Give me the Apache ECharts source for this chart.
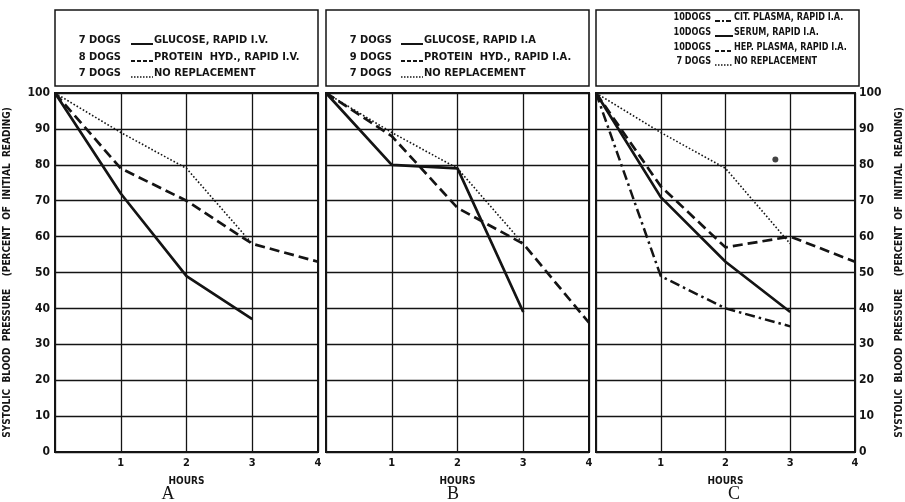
<!DOCTYPE html>
<html>
<head>
<meta charset="utf-8">
<script src="https://cdn.jsdelivr.net/npm/echarts@6/dist/echarts.min.js"></script>
<style>
html,body{margin:0;padding:0;background:#fff;}
#chart{width:905px;height:502px;}
</style>
</head>
<body>
<div id="chart"></div>
<script>
// hours after start, and blood pressure as percent of initial reading
var hours = [0, 1, 2, 3, 4];
var yTicks = [0, 10, 20, 30, 40, 50, 60, 70, 80, 90, 100];

// panel A - rapid I.V.
var glucoseIV = [100, 72, 49, 37];
var proteinIV = [100, 79, 70, 58, 53];
var noReplA = [100, 89, 79, 58];
// panel B - rapid I.A.
var glucoseIA = [100, 80, 79, 39];
var proteinIA = [100, 88, 68, 58, 36];
var noReplB = [100, 89, 79, 58];
// panel C
var citPlasma = [100, 49, 40, 35];
var serum = [100, 71, 53, 39];
var hepPlasma = [100, 74, 57, 60, 53];
var noReplC = [100, 89, 79, 58];
var blotC = [[2.77, 81.5]];

var panelLetters = ['A', 'B', 'C'];
var legendA = [['7 DOGS', 'GLUCOSE, RAPID I.V.', 'solid'], ['8 DOGS', 'PROTEIN  HYD., RAPID I.V.', 'dashed'], ['7 DOGS', 'NO REPLACEMENT', 'dotted']];
var legendB = [['7 DOGS', 'GLUCOSE, RAPID I.A', 'solid'], ['9 DOGS', 'PROTEIN  HYD., RAPID I.A.', 'dashed'], ['7 DOGS', 'NO REPLACEMENT', 'dotted']];
var legendC = [['10DOGS', 'CIT. PLASMA, RAPID I.A.', 'dashdot'], ['10DOGS', 'SERUM, RAPID I.A.', 'solid'], ['10DOGS', 'HEP. PLASMA, RAPID I.A.', 'dashed'], ['7 DOGS', 'NO REPLACEMENT', 'dotted']];

var INK = '#141414';
var FONT = '"Liberation Sans Narrow","DejaVu Sans Condensed","Liberation Sans",sans-serif';
var styles = {
    solid:   {width: 2.7, type: 'solid'},
    dashed:  {width: 2.7, type: [10, 5]},
    dotted:  {width: 1.6, type: [1.6, 2]},
    dashdot: {width: 2.5, type: [10, 4, 2.5, 4]}
};

function pairs(vals) {
    return vals.map(function (v, i) { return [hours[i], v]; });
}
function line(name, vals, idx, kind) {
    return {
        name: name, type: 'line', xAxisIndex: idx, yAxisIndex: idx,
        data: pairs(vals), symbol: 'none', silent: true, animation: false,
        lineStyle: {color: INK, width: styles[kind].width, type: styles[kind].type, cap: 'butt'}
    };
}

var lefts = [55, 326, 596];
var grids = lefts.map(function (l) {
    return {left: l, width: 263, top: 93, height: 359, show: true, borderColor: INK, borderWidth: 2, backgroundColor: '#fff'};
});

var xAxes = lefts.map(function (l, i) {
    return {
        type: 'value', gridIndex: i, min: 0, max: 4, interval: 1,
        name: 'HOURS', nameLocation: 'middle', nameGap: 24,
        nameTextStyle: {color: INK, fontSize: 10, fontWeight: 'bold', fontFamily: FONT},
        axisLine: {show: true, lineStyle: {color: INK, width: 2}},
        axisTick: {show: false},
        axisLabel: {color: INK, fontSize: 11, fontWeight: 'bold', margin: 6, fontFamily: FONT,
            formatter: function (v) { return v === 0 ? '' : String(v); }},
        splitLine: {show: true, lineStyle: {color: INK, width: 1.3}}
    };
});

var yName = 'SYSTOLIC  BLOOD  PRESSURE    (PERCENT  OF  INITIAL  READING)';
var yAxes = lefts.map(function (l, i) {
    return {
        type: 'value', gridIndex: i, min: yTicks[0], max: yTicks[yTicks.length - 1], interval: 10,
        position: i === 2 ? 'right' : 'left',
        name: i === 1 ? '' : yName, nameLocation: 'middle', nameRotate: 90,
        nameGap: i === 2 ? 39 : 43,
        nameTextStyle: {color: INK, fontSize: 10, fontWeight: 'bold', fontFamily: FONT},
        axisLine: {show: true, lineStyle: {color: INK, width: 2}},
        axisTick: {show: false},
        axisLabel: {show: i !== 1, color: INK, fontSize: 12, fontWeight: 'bold', margin: i === 2 ? 4 : 5, fontFamily: FONT},
        splitLine: {show: true, lineStyle: {color: INK, width: 1.3}}
    };
});

var series = [
    line('Glucose I.V.', glucoseIV, 0, 'solid'),
    line('Protein hyd. I.V.', proteinIV, 0, 'dashed'),
    line('No replacement A', noReplA, 0, 'dotted'),
    line('Glucose I.A.', glucoseIA, 1, 'solid'),
    line('Protein hyd. I.A.', proteinIA, 1, 'dashed'),
    line('No replacement B', noReplB, 1, 'dotted'),
    line('Cit. plasma', citPlasma, 2, 'dashdot'),
    line('Serum', serum, 2, 'solid'),
    line('Hep. plasma', hepPlasma, 2, 'dashed'),
    line('No replacement C', noReplC, 2, 'dotted'),
    {type: 'scatter', xAxisIndex: 2, yAxisIndex: 2, data: blotC, symbolSize: 6,
        itemStyle: {color: INK}, silent: true, animation: false}
];

// legend boxes drawn as graphics (count, line sample, label)
function legendBox(x, rows, countRight, sampleFrom, sampleTo, rowYs, squeeze) {
    var els = [{type: 'rect', shape: {x: x, y: 10, width: 263, height: 76},
        style: {fill: '#fff', stroke: INK, lineWidth: 1.5}}];
    rows.forEach(function (r, k) {
        var y = rowYs[k];
        els.push({type: 'text', x: countRight, y: y, scaleX: squeeze,
            style: {text: r[0], x: 0, y: 0, align: 'right', verticalAlign: 'middle',
            fill: INK, font: 'bold 11px ' + FONT}});
        els.push({type: 'line', shape: {x1: sampleFrom, y1: y + 4, x2: sampleTo, y2: y + 4},
            style: {stroke: INK, lineWidth: r[2] === 'dotted' ? 1.6 : 2,
                lineDash: r[2] === 'solid' ? null : (r[2] === 'dashed' ? [4, 2] : (r[2] === 'dotted' ? [1.5, 1.5] : [5, 2, 2, 2]))}});
        els.push({type: 'text', x: sampleTo + 1, y: y, scaleX: squeeze,
            style: {text: r[1], x: 0, y: 0, align: 'left', verticalAlign: 'middle',
            fill: INK, font: 'bold 11px ' + FONT}});
    });
    return els;
}

var graphics = []
    .concat(legendBox(55, legendA, 121, 131, 153, [40, 57, 73], 1))
    .concat(legendBox(326, legendB, 392, 401, 423, [40, 57, 73], 1))
    .concat(legendBox(596, legendC, 711, 715, 733, [17, 32, 47, 61], 0.82));
var letterX = [168, 453, 734];
panelLetters.forEach(function (t, i) {
    graphics.push({type: 'text', style: {text: t, x: letterX[i], y: 494, align: 'center', verticalAlign: 'middle',
        fill: INK, font: '18px "Liberation Serif","DejaVu Serif",serif'}});
});

var chart = echarts.init(document.getElementById('chart'));
chart.setOption({
    backgroundColor: '#fff',
    animation: false,
    grid: grids,
    xAxis: xAxes,
    yAxis: yAxes,
    series: series,
    graphic: graphics
});
</script>
</body>
</html>
